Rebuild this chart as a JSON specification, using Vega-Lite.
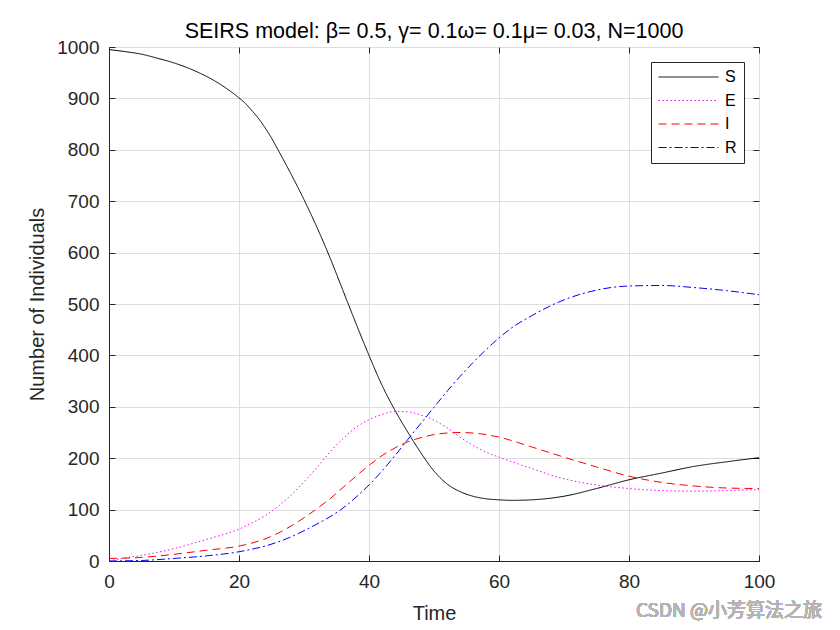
{
  "$schema": "https://vega.github.io/schema/vega-lite/v6.json",
  "width": 650,
  "height": 514,
  "autosize": "none",
  "padding": {"left": 109, "top": 47, "right": 81, "bottom": 69},
  "background": "white",
  "title": {"text": "SEIRS model: β= 0.5, γ= 0.1ω= 0.1μ= 0.03, N=1000", "fontSize": 21.5, "font": "Liberation Sans", "fontWeight": "normal", "color": "#000000", "offset": -4, "anchor": "middle"},
  "config": {
    "view": {"stroke": "#262626", "strokeWidth": 1},
    "axis": {"domainColor": "#262626", "tickColor": "#262626", "labelColor": "#262626", "titleColor": "#262626", "labelFont": "Liberation Sans", "titleFont": "Liberation Sans", "labelFontSize": 19, "titleFontSize": 20, "titleFontWeight": "normal", "gridColor": "#dedede", "tickSize": -6}
  },
  "data": {"values": [
    {"t": 0, "series": "S", "value": 995}, {"t": 2.5, "series": "S", "value": 991}, {"t": 5, "series": "S", "value": 986}, {"t": 7.5, "series": "S", "value": 978}, {"t": 10, "series": "S", "value": 969}, {"t": 12, "series": "S", "value": 960}, {"t": 14, "series": "S", "value": 949}, {"t": 16, "series": "S", "value": 936}, {"t": 18, "series": "S", "value": 920}, {"t": 20, "series": "S", "value": 901}, {"t": 21, "series": "S", "value": 890}, {"t": 22, "series": "S", "value": 876}, {"t": 23, "series": "S", "value": 861}, {"t": 24, "series": "S", "value": 843}, {"t": 25, "series": "S", "value": 823}, {"t": 26, "series": "S", "value": 800}, {"t": 28, "series": "S", "value": 753}, {"t": 30, "series": "S", "value": 703}, {"t": 32, "series": "S", "value": 649}, {"t": 34, "series": "S", "value": 590}, {"t": 36, "series": "S", "value": 526}, {"t": 38, "series": "S", "value": 462}, {"t": 40, "series": "S", "value": 400}, {"t": 42, "series": "S", "value": 342}, {"t": 44, "series": "S", "value": 293}, {"t": 46, "series": "S", "value": 250}, {"t": 48, "series": "S", "value": 210}, {"t": 50, "series": "S", "value": 175}, {"t": 52, "series": "S", "value": 150}, {"t": 54, "series": "S", "value": 135}, {"t": 56, "series": "S", "value": 126}, {"t": 58, "series": "S", "value": 121}, {"t": 60, "series": "S", "value": 119}, {"t": 62, "series": "S", "value": 118}, {"t": 65, "series": "S", "value": 119}, {"t": 70, "series": "S", "value": 126}, {"t": 75, "series": "S", "value": 141}, {"t": 80, "series": "S", "value": 158}, {"t": 85, "series": "S", "value": 171}, {"t": 90, "series": "S", "value": 184}, {"t": 95, "series": "S", "value": 193}, {"t": 100, "series": "S", "value": 201},
    {"t": 0, "series": "E", "value": 0}, {"t": 2, "series": "E", "value": 5}, {"t": 5, "series": "E", "value": 11}, {"t": 10, "series": "E", "value": 24}, {"t": 15, "series": "E", "value": 42}, {"t": 18, "series": "E", "value": 53}, {"t": 20, "series": "E", "value": 62}, {"t": 22, "series": "E", "value": 74}, {"t": 24, "series": "E", "value": 88}, {"t": 26, "series": "E", "value": 106}, {"t": 28, "series": "E", "value": 128}, {"t": 30, "series": "E", "value": 154}, {"t": 32, "series": "E", "value": 182}, {"t": 34, "series": "E", "value": 212}, {"t": 36, "series": "E", "value": 238}, {"t": 38, "series": "E", "value": 260}, {"t": 40, "series": "E", "value": 275}, {"t": 42, "series": "E", "value": 285}, {"t": 44, "series": "E", "value": 291}, {"t": 46, "series": "E", "value": 290}, {"t": 48, "series": "E", "value": 284}, {"t": 50, "series": "E", "value": 274}, {"t": 52, "series": "E", "value": 259}, {"t": 54, "series": "E", "value": 241}, {"t": 56, "series": "E", "value": 225}, {"t": 58, "series": "E", "value": 212}, {"t": 60, "series": "E", "value": 202}, {"t": 62, "series": "E", "value": 193}, {"t": 65, "series": "E", "value": 180}, {"t": 70, "series": "E", "value": 160}, {"t": 75, "series": "E", "value": 148}, {"t": 80, "series": "E", "value": 141}, {"t": 85, "series": "E", "value": 137}, {"t": 90, "series": "E", "value": 136}, {"t": 95, "series": "E", "value": 137}, {"t": 100, "series": "E", "value": 139},
    {"t": 0, "series": "I", "value": 5}, {"t": 5, "series": "I", "value": 7}, {"t": 10, "series": "I", "value": 13}, {"t": 15, "series": "I", "value": 21}, {"t": 20, "series": "I", "value": 29}, {"t": 22, "series": "I", "value": 35}, {"t": 24, "series": "I", "value": 43}, {"t": 26, "series": "I", "value": 54}, {"t": 28, "series": "I", "value": 68}, {"t": 30, "series": "I", "value": 84}, {"t": 32, "series": "I", "value": 102}, {"t": 34, "series": "I", "value": 121}, {"t": 36, "series": "I", "value": 143}, {"t": 38, "series": "I", "value": 165}, {"t": 40, "series": "I", "value": 186}, {"t": 42, "series": "I", "value": 205}, {"t": 44, "series": "I", "value": 220}, {"t": 46, "series": "I", "value": 232}, {"t": 48, "series": "I", "value": 240}, {"t": 50, "series": "I", "value": 246}, {"t": 52, "series": "I", "value": 249}, {"t": 54, "series": "I", "value": 250}, {"t": 56, "series": "I", "value": 249}, {"t": 58, "series": "I", "value": 246}, {"t": 60, "series": "I", "value": 241}, {"t": 65, "series": "I", "value": 222}, {"t": 70, "series": "I", "value": 202}, {"t": 75, "series": "I", "value": 183}, {"t": 80, "series": "I", "value": 165}, {"t": 85, "series": "I", "value": 153}, {"t": 90, "series": "I", "value": 146}, {"t": 95, "series": "I", "value": 142}, {"t": 100, "series": "I", "value": 141},
    {"t": 0, "series": "R", "value": 0}, {"t": 5, "series": "R", "value": 1}, {"t": 10, "series": "R", "value": 5}, {"t": 15, "series": "R", "value": 10}, {"t": 20, "series": "R", "value": 18}, {"t": 22, "series": "R", "value": 23}, {"t": 24, "series": "R", "value": 29}, {"t": 26, "series": "R", "value": 37}, {"t": 28, "series": "R", "value": 47}, {"t": 30, "series": "R", "value": 59}, {"t": 32, "series": "R", "value": 72}, {"t": 34, "series": "R", "value": 86}, {"t": 36, "series": "R", "value": 103}, {"t": 38, "series": "R", "value": 124}, {"t": 40, "series": "R", "value": 148}, {"t": 42, "series": "R", "value": 175}, {"t": 44, "series": "R", "value": 205}, {"t": 46, "series": "R", "value": 237}, {"t": 48, "series": "R", "value": 268}, {"t": 50, "series": "R", "value": 299}, {"t": 52, "series": "R", "value": 330}, {"t": 54, "series": "R", "value": 359}, {"t": 56, "series": "R", "value": 386}, {"t": 58, "series": "R", "value": 411}, {"t": 60, "series": "R", "value": 434}, {"t": 62, "series": "R", "value": 454}, {"t": 65, "series": "R", "value": 477}, {"t": 70, "series": "R", "value": 508}, {"t": 75, "series": "R", "value": 527}, {"t": 80, "series": "R", "value": 535}, {"t": 85, "series": "R", "value": 536}, {"t": 90, "series": "R", "value": 532}, {"t": 95, "series": "R", "value": 526}, {"t": 100, "series": "R", "value": 518}
  ]},
  "layer": [
    {
      "mark": {"type": "line", "interpolate": "monotone", "strokeWidth": 1, "clip": true},
      "encoding": {
        "x": {"field": "t", "type": "quantitative", "scale": {"domain": [0, 100], "nice": false}, "axis": {"values": [0, 20, 40, 60, 80, 100], "title": "Time", "labelPadding": 17, "labelFlush": false, "titlePadding": 12, "grid": true}},
        "y": {"field": "value", "type": "quantitative", "scale": {"domain": [0, 1000], "nice": false}, "axis": {"values": [0, 100, 200, 300, 400, 500, 600, 700, 800, 900, 1000], "format": "d", "title": "Number of Individuals", "labelPadding": 16, "labelFlush": false, "titlePadding": 9, "grid": true}},
        "color": {"field": "series", "type": "nominal", "scale": {"domain": ["S", "E", "I", "R"], "range": ["#000000", "#ff00ff", "#ff0000", "#0000ff"]},
          "legend": {"title": null, "orient": "none", "legendX": 542, "legendY": 15, "direction": "vertical", "symbolType": "stroke", "symbolSize": 3600, "symbolStrokeWidth": 1, "clipHeight": 16, "labelFontSize": 16, "labelFont": "Liberation Sans", "labelColor": "#000000", "strokeColor": "#262626", "fillColor": "white", "padding": 7, "rowPadding": 7.5, "labelOffset": 6}},
        "strokeDash": {"field": "series", "type": "nominal", "scale": {"domain": ["S", "E", "I", "R"], "range": [[1, 0], [1.5, 2.5], [8, 5], [8, 3, 2, 3]]},
          "legend": {"title": null, "orient": "none", "legendX": 542, "legendY": 15, "direction": "vertical", "symbolType": "stroke", "symbolSize": 3600, "symbolStrokeWidth": 1, "clipHeight": 16, "labelFontSize": 16, "labelFont": "Liberation Sans", "labelColor": "#000000", "strokeColor": "#262626", "fillColor": "white", "padding": 7, "rowPadding": 7.5, "labelOffset": 6}}
      }
    },
    {
      "mark": {"type": "line", "opacity": 0},
      "encoding": {
        "x": {"field": "t", "type": "quantitative", "axis": {"orient": "top", "values": [0, 20, 40, 60, 80, 100], "labels": false, "title": null, "grid": false, "domain": false}},
        "y": {"field": "value", "type": "quantitative", "axis": {"orient": "right", "values": [0, 100, 200, 300, 400, 500, 600, 700, 800, 900, 1000], "labels": false, "title": null, "grid": false, "domain": false}}
      }
    },
    {
      "mark": {"type": "text", "align": "right", "baseline": "middle", "dx": 63, "dy": 50, "fontSize": 19, "font": "Noto Sans CJK SC", "fontWeight": "normal", "color": "#b4b4b4"},
      "encoding": {
        "x": {"datum": 100, "axis": null},
        "y": {"datum": 0, "axis": null},
        "text": {"value": "CSDN @小芳算法之旅"}
      }
    }
  ],
  "resolve": {"axis": {"x": "independent", "y": "independent"}}
}
